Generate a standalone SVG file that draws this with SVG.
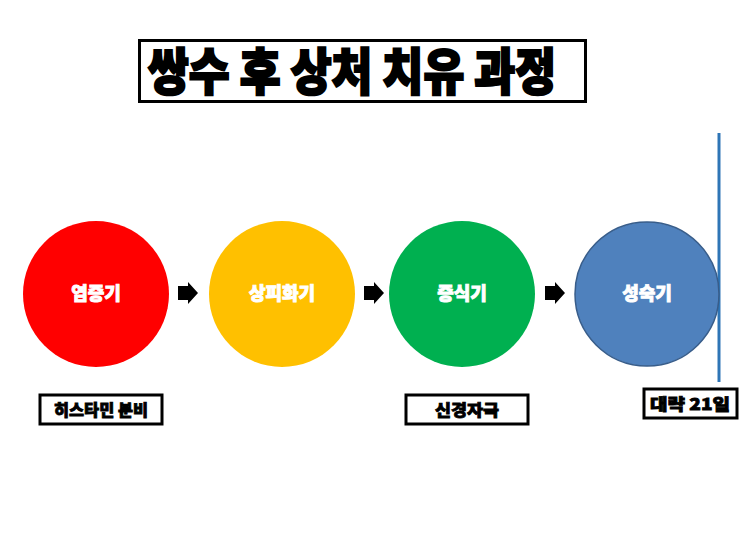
<svg xmlns="http://www.w3.org/2000/svg" width="743" height="557" viewBox="0 0 743 557">
<style>
.t{font-family:"Noto Sans CJK KR","Noto Sans",sans-serif;font-weight:900;text-anchor:middle;paint-order:stroke}
.c{fill:#fff;stroke:#fff;stroke-width:0.9;font-size:18px}
.b{fill:#000;stroke:#000;stroke-width:0.8;font-size:16px}
.box{fill:#fff;stroke:#000;stroke-width:3}
</style>
<defs>
<path id="arr" d="M0,-7 H10 V-11 L20,0 L10,11 V7 H0 Z" fill="#000"/>
</defs>
<rect width="743" height="557" fill="#fff"/>
<g id="title">
<rect class="box" x="139.5" y="40.5" width="446" height="61"/>
<text class="t" x="352" y="90" font-size="50" stroke="#000" stroke-width="2.2" textLength="408" lengthAdjust="spacingAndGlyphs">쌍수 후 상처 치유 과정</text>
</g>
<g id="line"><line x1="719" y1="133" x2="719" y2="382" stroke="#2E75B6" stroke-width="3"/></g>
<g id="n1"><circle cx="96" cy="294" r="73" fill="#FF0000"/><text class="t c" x="96" y="300">염증기</text></g>
<g id="n2"><circle cx="282" cy="294" r="73" fill="#FFC000"/><text class="t c" x="282" y="300">상피화기</text></g>
<g id="n3"><circle cx="462" cy="294" r="73" fill="#00B050"/><text class="t c" x="462" y="300">증식기</text></g>
<g id="n4"><circle cx="647" cy="294" r="72" fill="#4F81BD" stroke="#385D8A" stroke-width="1.5"/><text class="t c" x="647" y="300">성숙기</text></g>
<g id="connectors">
<use href="#arr" x="178" y="293"/>
<use href="#arr" x="364" y="293"/>
<use href="#arr" x="545" y="293"/>
</g>
<g id="l1"><rect class="box" x="40" y="395" width="122" height="29"/><text class="t b" x="101" y="415.5" textLength="94" lengthAdjust="spacingAndGlyphs">히스타민 분비</text></g>
<g id="l2"><rect class="box" x="406" y="395" width="122" height="29"/><text class="t b" x="467" y="415.5" textLength="64" lengthAdjust="spacingAndGlyphs">신경자극</text></g>
<g id="l3"><rect class="box" x="644" y="389" width="93" height="29"/><text class="t b" x="690" y="409.5" textLength="80" lengthAdjust="spacingAndGlyphs">대략 21일</text></g>
</svg>
